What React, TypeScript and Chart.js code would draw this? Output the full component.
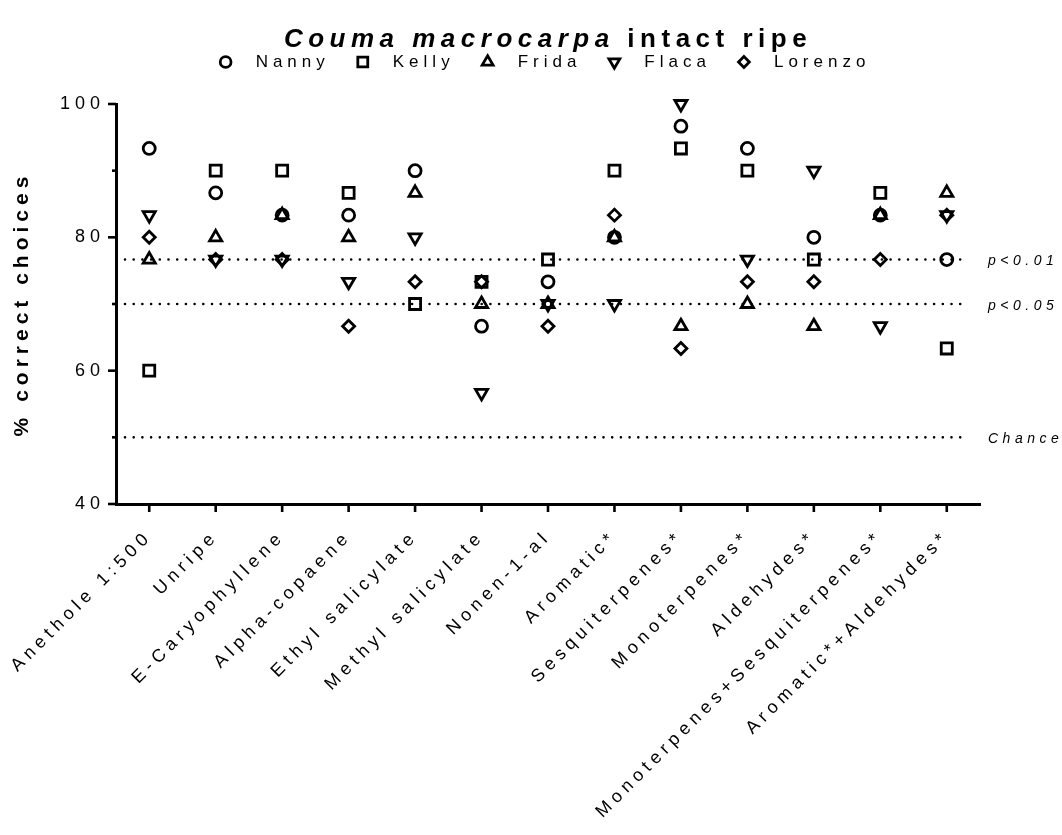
import React, { useEffect, useRef } from 'react';
import { Chart, registerables } from 'chart.js';

Chart.register(...registerables);

const FONT = "'Liberation Sans', Arial, Helvetica, sans-serif";

const categories = [
  'Anethole 1:500',
  'Unripe',
  'E-Caryophyllene',
  'Alpha-copaene',
  'Ethyl salicylate',
  'Methyl salicylate',
  'Nonen-1-al',
  'Aromatic*',
  'Sesquiterpenes*',
  'Monoterpenes*',
  'Aldehydes*',
  'Monoterpenes+Sesquiterpenes*',
  'Aromatic*+Aldehydes*',
];

const seriesNames = ['Nanny', 'Kelly', 'Frida', 'Flaca', 'Lorenzo'];

const nanny = [93.33, 86.67, 83.33, 83.33, 90, 66.67, 73.33, 80, 96.67, 93.33, 80, 83.33, 76.67];
const kelly = [60, 90, 90, 86.67, 70, 73.33, 76.67, 90, 93.33, 90, 76.67, 86.67, 63.33];
const frida = [76.67, 80, 83.33, 80, 86.67, 70, 70, 80, 66.67, 70, 66.67, 83.33, 86.67];
const flaca = [83.33, 76.67, 76.67, 73.33, 80, 56.67, 70, 70, 100, 76.67, 90, 66.67, 83.33];
const lorenzo = [80, 76.67, 76.67, 66.67, 73.33, 73.33, 66.67, 83.33, 63.33, 73.33, 73.33, 76.67, 83.33];

const seriesValues = [nanny, kelly, frida, flaca, lorenzo];

const refValues = [76.67, 70, 50];
const refLabels = ['p<0.01', 'p<0.05', 'Chance'];

const yMin = 40;
const yMax = 100;
const yStep = 10;
const yLabelEvery = 20;

const titleItalic = 'Couma macrocarpa';
const titleRest = ' intact ripe';
const yTitle = '% correct choices';

// marker styles (not data)
const markerStyles = [
  { pointStyle: 'circle', radius: 6, rotation: 0 },
  { pointStyle: 'rect', radius: 7.8, rotation: 0 },
  { pointStyle: 'triangle', radius: 7, rotation: 0 },
  { pointStyle: 'triangle', radius: 7, rotation: 180 },
  { pointStyle: 'rectRot', radius: 6, rotation: 0 },
];

function drawMarker(ctx: CanvasRenderingContext2D, style: string, r: number, rot: number, x: number, y: number) {
  ctx.beginPath();
  if (style === 'circle') {
    ctx.arc(x, y, r, 0, Math.PI * 2);
  } else if (style === 'rect') {
    const s = r * Math.SQRT1_2;
    ctx.rect(x - s, y - s, 2 * s, 2 * s);
  } else if (style === 'rectRot') {
    ctx.moveTo(x - r, y);
    ctx.lineTo(x, y - r);
    ctx.lineTo(x + r, y);
    ctx.lineTo(x, y + r);
    ctx.closePath();
  } else {
    let a = (rot * Math.PI) / 180;
    ctx.moveTo(x + Math.sin(a) * r, y - Math.cos(a) * r);
    a += (2 * Math.PI) / 3;
    ctx.lineTo(x + Math.sin(a) * r, y - Math.cos(a) * r);
    a += (2 * Math.PI) / 3;
    ctx.lineTo(x + Math.sin(a) * r, y - Math.cos(a) * r);
    ctx.closePath();
  }
  ctx.stroke();
}

const decorPlugin = {
  id: 'decor',
  beforeUpdate(chart: any) {
    chart.ctx.letterSpacing = '5px';
  },
  beforeDraw(chart: any) {
    const ctx = chart.ctx;
    ctx.letterSpacing = '5px';
    ctx.save();
    ctx.fillStyle = '#fff';
    ctx.fillRect(0, 0, chart.width, chart.height);
    ctx.restore();
  },
  beforeDatasetsDraw(chart: any) {
    const ctx: CanvasRenderingContext2D = chart.ctx;
    const { left, right, bottom } = chart.chartArea;
    const ys = chart.scales.y;
    const xs = chart.scales.x;
    ctx.save();
    // reference lines
    ctx.strokeStyle = '#000';
    ctx.lineWidth = 2.6;
    ctx.lineCap = 'round';
    ctx.setLineDash([0, 8.7]);
    refValues.forEach((v) => {
      const py = ys.getPixelForValue(v);
      ctx.beginPath();
      ctx.moveTo(left + 9, py);
      ctx.lineTo(right - 12, py);
      ctx.stroke();
    });
    ctx.setLineDash([]);
    ctx.lineCap = 'butt';
    ctx.fillStyle = '#000';
    ctx.font = `italic 14px ${FONT}`;
    (ctx as any).letterSpacing = '4.5px';
    ctx.textAlign = 'left';
    ctx.textBaseline = 'middle';
    refValues.forEach((v, i) => {
      const py = ys.getPixelForValue(v);
      ctx.fillText(refLabels[i], right + 8, py + 2);
    });
    // tick marks
    ctx.lineWidth = 2.6;
    ys.ticks.forEach((t: any) => {
      const py = ys.getPixelForValue(t.value);
      const len = t.value % yLabelEvery === 0 ? 8 : 4;
      ctx.beginPath();
      ctx.moveTo(left - len, py);
      ctx.lineTo(left, py);
      ctx.stroke();
    });
    categories.forEach((c, i) => {
      const px = xs.getPixelForValue(i);
      ctx.beginPath();
      ctx.moveTo(px, bottom);
      ctx.lineTo(px, bottom + 8);
      ctx.stroke();
    });
    ctx.restore();
  },
  afterDraw(chart: any) {
    const ctx: CanvasRenderingContext2D = chart.ctx;
    const { left, right } = chart.chartArea;
    const cx = (left + right) / 2;
    ctx.save();
    ctx.fillStyle = '#000';
    ctx.strokeStyle = '#000';
    ctx.textBaseline = 'middle';
    ctx.textAlign = 'left';
    // title
    (ctx as any).letterSpacing = '5.5px';
    ctx.font = `italic bold 26px ${FONT}`;
    const w1 = ctx.measureText(titleItalic).width;
    ctx.font = `bold 26px ${FONT}`;
    const w2 = ctx.measureText(titleRest).width;
    const tx = cx - (w1 + w2) / 2;
    ctx.font = `italic bold 26px ${FONT}`;
    ctx.fillText(titleItalic, tx, 40);
    ctx.font = `bold 26px ${FONT}`;
    ctx.fillText(titleRest, tx + w1, 40);
    // legend
    (ctx as any).letterSpacing = '5px';
    ctx.font = `17px ${FONT}`;
    const gapMarkerText = 30;
    const gapItems = 33;
    const widths = chart.data.datasets.map((d: any) => ctx.measureText(d.label).width);
    let total = 0;
    widths.forEach((w: number, i: number) => {
      total += gapMarkerText + w + (i < widths.length - 1 ? gapItems : 0);
    });
    let x = cx - total / 2;
    const ly = 62;
    ctx.lineWidth = 2.8;
    chart.data.datasets.forEach((d: any, i: number) => {
      const st = markerStyles[i];
      drawMarker(ctx, st.pointStyle, st.radius * 0.9, st.rotation, x, ly);
      ctx.fillText(d.label, x + gapMarkerText, ly);
      x += gapMarkerText + widths[i] + gapItems;
    });
    ctx.restore();
  },
};

export default function App() {
  const ref = useRef<HTMLCanvasElement>(null);

  useEffect(() => {
    Chart.defaults.font.family = FONT;
    Chart.defaults.color = '#000';
    const datasets = seriesNames.map((name, i) => ({
      label: name,
      data: seriesValues[i],
      showLine: false,
      borderColor: '#000',
      backgroundColor: 'rgba(0,0,0,0)',
      pointStyle: markerStyles[i].pointStyle as any,
      pointRadius: markerStyles[i].radius,
      pointRotation: markerStyles[i].rotation,
      pointBorderWidth: 2.8,
      pointBorderColor: '#000',
      pointBackgroundColor: 'rgba(0,0,0,0)',
      clip: false as any,
    }));
    const chart = new Chart(ref.current as HTMLCanvasElement, {
      type: 'line',
      data: { labels: categories, datasets },
      options: {
        animation: false,
        responsive: false,
        events: [],
        layout: { padding: { top: 104, right: 82, left: 0, bottom: 0 } },
        plugins: {
          legend: { display: false },
          title: { display: false },
          tooltip: { enabled: false },
        },
        scales: {
          x: {
            type: 'category',
            offset: true,
            grid: { display: false, drawTicks: false },
            border: { display: true, color: '#000', width: 3 },
            ticks: {
              color: '#000',
              font: { family: FONT, size: 18 },
              minRotation: 45,
              maxRotation: 45,
              autoSkip: false,
              padding: 22,
            },
            afterFit: (s: any) => {
              s.height = 331;
              s.paddingLeft = 0;
              s.paddingRight = 0;
            },
          },
          y: {
            min: yMin,
            max: yMax,
            grid: { display: false, drawTicks: false },
            border: { display: true, color: '#000', width: 3 },
            ticks: {
              stepSize: yStep,
              color: '#000',
              font: { family: FONT, size: 18 },
              padding: 11,
              callback: (v: any) => (Number(v) % yLabelEvery === 0 ? String(v) : ''),
            },
            title: {
              display: true,
              text: yTitle,
              color: '#000',
              font: { family: FONT, size: 21, weight: 'bold' },
              padding: { top: 10, bottom: 0 },
            },
            afterFit: (s: any) => {
              s.width = 116;
              s.paddingTop = 0;
              s.paddingBottom = 0;
            },
          },
        },
      } as any,
      plugins: [decorPlugin],
    });
    return () => chart.destroy();
  }, []);

  return (
    <div style={{ position: 'absolute', left: 0, top: 0, width: 1062, height: 835, background: '#fff' }}>
      <canvas ref={ref} width={1062} height={835} style={{ display: 'block', width: 1062, height: 835 }} />
    </div>
  );
}
